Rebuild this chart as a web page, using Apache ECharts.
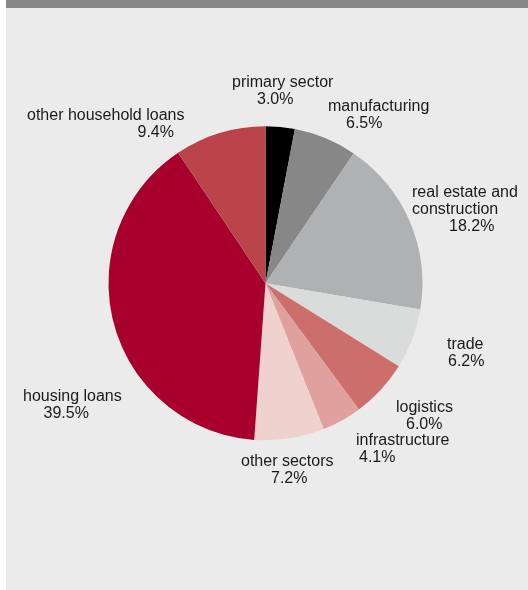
<!DOCTYPE html>
<html>
<head>
<meta charset="utf-8">
<script src="https://cdn.jsdelivr.net/npm/echarts@6/dist/echarts.min.js"></script>
<style>
html,body{margin:0;padding:0;background:#ffffff;}
#chart{width:528px;height:590px;}
</style>
</head>
<body>
<div id="chart"></div>
<script>
// Data
const categories = ['primary sector','manufacturing','real estate and\nconstruction','trade','logistics','infrastructure','other sectors','housing loans','other household loans'];
const shares = [3.0, 6.5, 18.2, 6.2, 6.0, 4.1, 7.2, 39.5, 9.4];

// Styling / layout (not data)
const colors = ['#000000','#878787','#b0b1b3','#dadcdb','#cc6e6c','#dfa09e','#efd1ce','#a8002c','#bb444b'];
// label top-left anchor and per-line left offsets
const labelAnchor = [[232,74.5],[328,98],[412,184],[447,336],[396,399.5],[356,432.5],[241,453],[23,388.5],[27,107]];
const pctOffset = [25,18,37,1,10,3,30,20.5,110.5];

const chart = echarts.init(document.getElementById('chart'), null, {renderer:'canvas'});

const data = categories.map((c,i)=>{
  const nameLines = c.split('\n').map(s=>'{n|'+s+'}').join('\n');
  return {
    name: c,
    value: shares[i],
    itemStyle: {color: colors[i]},
    label: {
      formatter: nameLines + '\n{p|' + shares[i].toFixed(1) + '%}',
      rich: {
        n: {fontSize:16, lineHeight:17, color:'#1a1a1a', fontFamily:'Liberation Sans, Arial, sans-serif'},
        p: {fontSize:16, lineHeight:17, color:'#1a1a1a', fontFamily:'Liberation Sans, Arial, sans-serif', padding:[0,0,0,pctOffset[i]]}
      }
    }
  };
});

chart.setOption({
  animation:false,
  backgroundColor:'#ffffff',
  graphic:[
    {type:'rect', z:-10, shape:{x:6,y:0,width:522,height:590}, style:{fill:'#ebebeb'}},
    {type:'rect', z:-10, shape:{x:6,y:0,width:522,height:8}, style:{fill:'#878787'}}
  ],
  series:[{
    type:'pie',
    center:[265.5,283.3],
    radius:157,
    startAngle:90,
    clockwise:true,
    silent:true,
    avoidLabelOverlap:false,
    itemStyle:{borderWidth:0},
    label:{show:true, position:'outside', align:'left'},
    labelLine:{show:false},
    labelLayout:function(params){
      const a = labelAnchor[params.dataIndex];
      return {x:a[0], y:a[1], align:'left', verticalAlign:'top', hideOverlap:false, moveOverlap:false};
    },
    data:data
  }]
});
</script>
</body>
</html>
